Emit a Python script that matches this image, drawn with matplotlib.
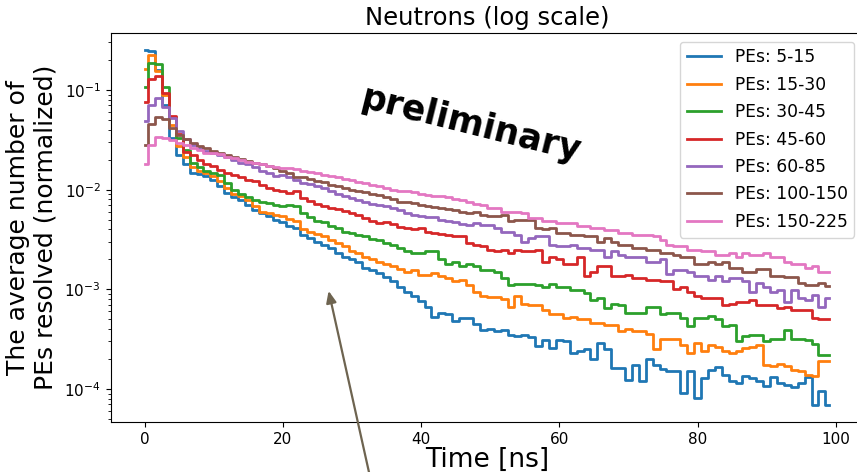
import numpy as np
import matplotlib

matplotlib.use('Agg')
import matplotlib.pyplot as plt

# time bins (ns)
time_ns = np.arange(100)

labels = ['PEs: 5-15', 'PEs: 15-30', 'PEs: 30-45', 'PEs: 45-60',
          'PEs: 60-85', 'PEs: 100-150', 'PEs: 150-225']

pe_5_15 = [0.25, 0.245, 0.16, 0.07, 0.033, 0.0223, 0.018, 0.0148, 0.0144, 0.0136,
           0.0125, 0.0108, 0.0093, 0.0085, 0.0079, 0.0070, 0.0063, 0.0058, 0.0055, 0.0050,
           0.0047, 0.0043, 0.0041, 0.0035, 0.0033, 0.0030, 0.0028, 0.0026, 0.0023, 0.0021,
           0.0020, 0.0019, 0.00165, 0.00155, 0.00145, 0.00134, 0.0012, 0.00106, 0.00095, 0.00085,
           0.00076, 0.00067, 0.00053, 0.00058, 0.00057, 0.00048, 0.00052, 0.00051, 0.00045, 0.00039,
           0.0004, 0.00038, 0.00039, 0.00035, 0.00034, 0.00035, 0.00033, 0.00027, 0.00031, 0.00026,
           0.00031, 0.0003, 0.00023, 0.00024, 0.00025, 0.0002, 0.00029, 0.00025, 0.000162, 0.000162,
           0.000124, 0.000175, 0.000119, 0.0002, 0.000175, 0.00016, 0.00015, 0.00015, 0.000092, 0.00015,
           0.000081, 0.000129, 0.000156, 0.000166, 0.000138, 0.000119, 0.000115, 0.000135, 0.000129, 0.000119,
           0.000106, 0.000133, 0.000115, 0.00011, 0.000104, 0.000115, 0.000133, 0.000069, 0.000095, 0.000069]

pe_15_30 = [0.162, 0.224, 0.155, 0.09, 0.0446, 0.0275, 0.0212, 0.017, 0.0155, 0.0148,
            0.0137, 0.0122, 0.0103, 0.0091, 0.0087, 0.0079, 0.0068, 0.0060, 0.0059, 0.0056,
            0.0054, 0.0051, 0.0048, 0.0040, 0.0038, 0.0036, 0.0034, 0.0031, 0.0029, 0.0027,
            0.0024, 0.0023, 0.0021, 0.0020, 0.0019, 0.0018, 0.0017, 0.0016, 0.0015, 0.00155,
            0.0014, 0.0014, 0.00145, 0.00135, 0.00129, 0.00122, 0.00125, 0.0011, 0.00095, 0.00085,
            0.00084, 0.00084, 0.0008, 0.00067, 0.00085, 0.00072, 0.0007, 0.0007, 0.00062, 0.00056,
            0.00056, 0.00052, 0.00053, 0.0005, 0.0005, 0.00046, 0.00046, 0.00044, 0.00044, 0.00038,
            0.0004, 0.00038, 0.00038, 0.00036, 0.00025, 0.00032, 0.00032, 0.00032, 0.000276, 0.000229,
            0.00029, 0.00024, 0.000276, 0.000266, 0.00024, 0.000229, 0.00024, 0.000255, 0.000266, 0.000276,
            0.000175, 0.00017, 0.00018, 0.00017, 0.000156, 0.00015, 0.000139, 0.000134, 0.00019, 0.00019]

pe_30_45 = [0.106, 0.188, 0.182, 0.108, 0.054, 0.0328, 0.025, 0.0184, 0.0168, 0.0155,
            0.0146, 0.0140, 0.0116, 0.0099, 0.0091, 0.0085, 0.0079, 0.0076, 0.0073, 0.0070,
            0.0068, 0.0070, 0.0068, 0.0058, 0.0053, 0.0049, 0.0047, 0.0043, 0.0041, 0.0038,
            0.0037, 0.0035, 0.0034, 0.0032, 0.0031, 0.0029, 0.0028, 0.0026, 0.0024, 0.0023,
            0.0023, 0.0024, 0.00245, 0.0020, 0.0018, 0.0019, 0.0017, 0.0018, 0.0017, 0.00158,
            0.00158, 0.0015, 0.00129, 0.0011, 0.00112, 0.00112, 0.00112, 0.0011, 0.00106, 0.00113,
            0.00106, 0.00106, 0.00099, 0.00099, 0.00092, 0.00078, 0.00082, 0.00065, 0.00072, 0.0007,
            0.00058, 0.00058, 0.00058, 0.00067, 0.00067, 0.00056, 0.00058, 0.00058, 0.00052, 0.00043,
            0.00052, 0.00052, 0.00054, 0.0005, 0.00043, 0.00044, 0.0003, 0.00034, 0.00035, 0.00035,
            0.0003, 0.00032, 0.00032, 0.00039, 0.00032, 0.00032, 0.00031, 0.00028, 0.00022, 0.00022]

pe_45_60 = [0.075, 0.128, 0.138, 0.094, 0.055, 0.036, 0.024, 0.0223, 0.0199, 0.0181,
            0.0173, 0.0159, 0.0148, 0.014, 0.0133, 0.0125, 0.0121, 0.0112, 0.0104, 0.0100,
            0.0096, 0.0093, 0.0096, 0.0082, 0.0077, 0.0072, 0.0069, 0.0066, 0.0064, 0.0061,
            0.0059, 0.0056, 0.0052, 0.0049, 0.0046, 0.0047, 0.0045, 0.0042, 0.0041, 0.0040,
            0.0041, 0.0038, 0.0037, 0.0036, 0.0035, 0.0034, 0.0034, 0.0029, 0.0028, 0.0027,
            0.0025, 0.0024, 0.0025, 0.0023, 0.0025, 0.0024, 0.0024, 0.0025, 0.0019, 0.0021,
            0.0020, 0.0018, 0.0018, 0.0021, 0.00137, 0.00148, 0.0017, 0.0017, 0.00137, 0.00137,
            0.0014, 0.00129, 0.00129, 0.00124, 0.00124, 0.0012, 0.0012, 0.0010, 0.00106, 0.00095,
            0.00085, 0.00082, 0.00082, 0.00082, 0.0007, 0.00072, 0.00075, 0.00075, 0.00078, 0.0007,
            0.0007, 0.0007, 0.00065, 0.00067, 0.00062, 0.00062, 0.00062, 0.00052, 0.0005, 0.0005]

pe_60_85 = [0.049, 0.0707, 0.0826, 0.067, 0.052, 0.039, 0.032, 0.028, 0.026, 0.0246,
            0.0232, 0.0223, 0.0214, 0.0199, 0.0187, 0.0181, 0.017, 0.0155, 0.0146, 0.0137,
            0.0140, 0.0135, 0.0125, 0.0118, 0.0114, 0.0108, 0.0104, 0.0097, 0.0091, 0.0087,
            0.0082, 0.0078, 0.0075, 0.0072, 0.0070, 0.0068, 0.0066, 0.0062, 0.0058, 0.0056,
            0.0054, 0.0053, 0.0053, 0.0050, 0.0049, 0.0047, 0.0045, 0.0044, 0.0046, 0.0044,
            0.0044, 0.0041, 0.0038, 0.0038, 0.0035, 0.0030, 0.0033, 0.0034, 0.0034, 0.0028,
            0.0027, 0.0027, 0.0028, 0.0026, 0.0026, 0.0025, 0.0025, 0.0021, 0.0024, 0.0022,
            0.0021, 0.0021, 0.0021, 0.0019, 0.0019, 0.0020, 0.00144, 0.00158, 0.00158, 0.0015,
            0.00137, 0.00137, 0.00124, 0.00137, 0.0012, 0.0013, 0.0013, 0.0012, 0.00095, 0.00115,
            0.00106, 0.00095, 0.00099, 0.00075, 0.00099, 0.00082, 0.00078, 0.00088, 0.00067, 0.00082]

pe_100_150 = [0.028, 0.0456, 0.0532, 0.0508, 0.0413, 0.0354, 0.032, 0.0297, 0.0275, 0.026,
              0.0246, 0.0235, 0.0223, 0.0212, 0.0202, 0.0196, 0.0187, 0.0181, 0.0173, 0.0164,
              0.0155, 0.0146, 0.0135, 0.0133, 0.0127, 0.0121, 0.0119, 0.0112, 0.0108, 0.0104,
              0.0100, 0.0096, 0.0094, 0.0091, 0.0088, 0.0084, 0.0080, 0.0076, 0.0075, 0.0073,
              0.0071, 0.0069, 0.0067, 0.0065, 0.0064, 0.0062, 0.0060, 0.0058, 0.0060, 0.0056,
              0.0054, 0.0054, 0.0056, 0.0048, 0.0050, 0.0050, 0.0050, 0.0041, 0.0040, 0.0041,
              0.0037, 0.0037, 0.0035, 0.0035, 0.0034, 0.0034, 0.0030, 0.0033, 0.0030, 0.0028,
              0.0028, 0.0026, 0.0026, 0.0025, 0.0025, 0.0023, 0.0023, 0.0022, 0.0021, 0.0021,
              0.0018, 0.0018, 0.0019, 0.0018, 0.0019, 0.00165, 0.00165, 0.0015, 0.0015, 0.0016,
              0.0016, 0.00137, 0.00137, 0.00134, 0.00134, 0.00115, 0.0011, 0.0011, 0.00115, 0.00109]

pe_150_225 = [0.0181, 0.028, 0.0335, 0.0328, 0.0315, 0.0292, 0.0281, 0.026, 0.025, 0.0235,
              0.0232, 0.0228, 0.0214, 0.0206, 0.0199, 0.0191, 0.0184, 0.0181, 0.0173, 0.0168,
              0.0164, 0.0164, 0.016, 0.0155, 0.0150, 0.0146, 0.0142, 0.0138, 0.0133, 0.0129,
              0.0125, 0.0120, 0.0116, 0.0112, 0.0108, 0.0104, 0.0100, 0.0098, 0.0096, 0.0094,
              0.0091, 0.0089, 0.0087, 0.0086, 0.0084, 0.0081, 0.0078, 0.0075, 0.0072, 0.0070,
              0.0065, 0.0065, 0.0060, 0.0060, 0.0060, 0.0058, 0.0052, 0.0052, 0.0048, 0.0048,
              0.0046, 0.0046, 0.0046, 0.0043, 0.0043, 0.0041, 0.0041, 0.0039, 0.0039, 0.0037,
              0.0037, 0.0035, 0.0035, 0.0035, 0.0034, 0.0031, 0.0028, 0.0027, 0.0027, 0.0025,
              0.0025, 0.0024, 0.0024, 0.0022, 0.0022, 0.0023, 0.0021, 0.0023, 0.0022, 0.0022,
              0.0023, 0.0021, 0.0021, 0.0019, 0.00178, 0.00178, 0.00165, 0.0017, 0.0015, 0.0015]

series = [pe_5_15, pe_15_30, pe_30_45, pe_45_60, pe_60_85, pe_100_150, pe_150_225]

fig = plt.figure(figsize=(8.57, 4.72), dpi=100)
ax = fig.add_axes([0.129, 0.106, 0.878, 0.824])

for vals, lab in zip(series, labels):
    ax.step(time_ns, vals, where='mid', lw=2, label=lab)

ax.set_yscale('log')
ax.set_ylim(4.67e-5, 0.373)
ax.set_xticks([0, 20, 40, 60, 80, 100])
ax.tick_params(labelsize=11)

ax.set_title('Neutrons (log scale)', fontsize=17.5)
ax.set_xlabel('Time [ns]', fontsize=19, labelpad=0)
ax.set_ylabel('The average number of\nPEs resolved (normalized)', fontsize=18)
ax.yaxis.set_label_coords(-0.07, 0.5)
ax.legend(loc='upper right', fontsize=12.3, labelspacing=0.55)

ax.text(0.478, 0.763, 'preliminary', transform=ax.transAxes, fontsize=25,
        fontweight='bold', rotation=-14, ha='center', va='center')

ax.annotate('', xy=(0.289, 0.344), xycoords='axes fraction',
            xytext=(0.347, -0.16), textcoords='axes fraction',
            arrowprops=dict(arrowstyle='-|>,head_length=0.7,head_width=0.3',
                            color='#6e6450', lw=1.6),
            annotation_clip=False)

fig.savefig('out.png', dpi=100)
